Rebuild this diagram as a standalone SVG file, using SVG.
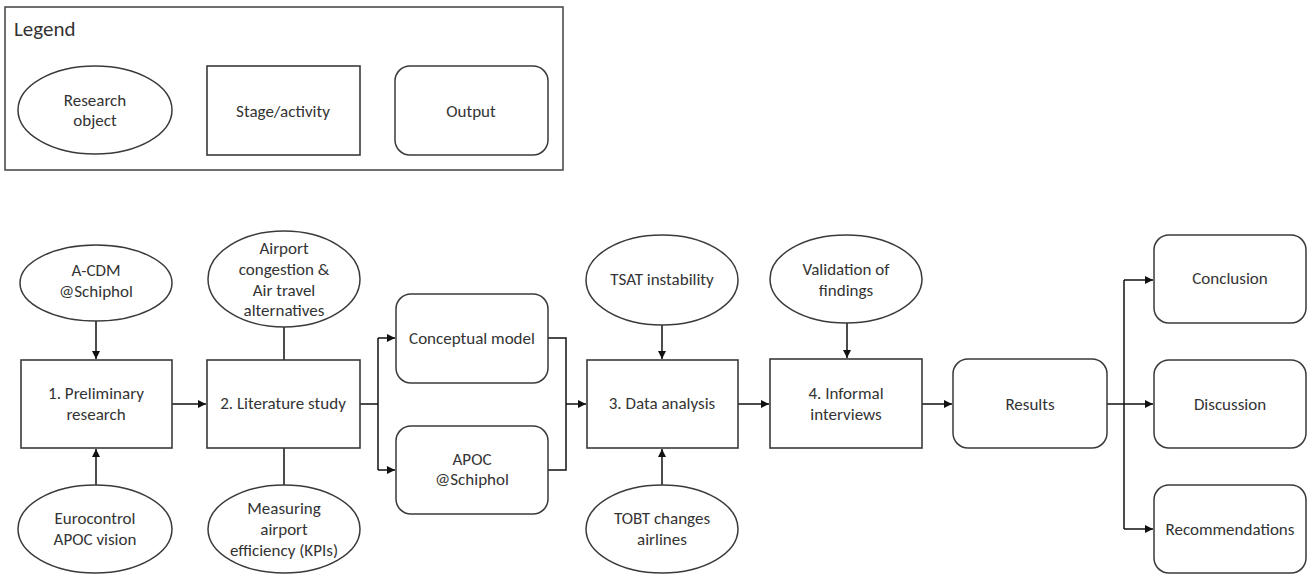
<svg xmlns="http://www.w3.org/2000/svg" width="1310" height="574" viewBox="0 0 1310 574">
  <style>
    text { font-family: Carlito, Lato, "Liberation Sans", sans-serif; font-size: 17px; fill: #333; text-anchor: middle; dominant-baseline: central; }
    .title { font-size: 21px; text-anchor: start; }
    .obj { fill: #fff; stroke: #3a3a3a; stroke-width: 1.5; }
    .stage { fill: #fff; stroke: #3a3a3a; stroke-width: 1.6; }
    .out { fill: #fff; stroke: #3a3a3a; stroke-width: 1.5; }
    .frame { fill: #fff; stroke: #404040; stroke-width: 1.5; }
    .conn { fill: none; stroke: #111; stroke-width: 1.5; }
  </style>
  <defs>
    <marker id="arrow" viewBox="0 0 10 10" refX="10" refY="5" markerWidth="10" markerHeight="8" markerUnits="userSpaceOnUse" orient="auto">
      <path d="M0,0 L10,5 L0,10 Z" fill="#111"/>
    </marker>
  </defs>
  <rect width="1310" height="574" fill="#fff"/>

  <!-- Legend -->
  <g id="legend">
    <rect class="frame" x="5" y="7" width="558" height="163"/>
    <text class="title" x="14" y="29">Legend</text>
    <ellipse class="obj" cx="95" cy="110" rx="77" ry="44"/>
    <text x="95" y="100">Research</text>
    <text x="95" y="120">object</text>
    <rect class="stage" x="207" y="66" width="153" height="89"/>
    <text x="283" y="111">Stage/activity</text>
    <rect class="out" x="395" y="66" width="153" height="89" rx="15" ry="15"/>
    <text x="471" y="111">Output</text>
  </g>

  <!-- Connectors -->
  <g id="connectors">
    <path class="conn" d="M96,321 V359" marker-end="url(#arrow)"/>
    <path class="conn" d="M96,486 V449" marker-end="url(#arrow)"/>
    <path class="conn" d="M172,404 H206" marker-end="url(#arrow)"/>
    <path class="conn" d="M284,327 V360"/>
    <path class="conn" d="M284,448 V485"/>
    <path class="conn" d="M360,404 H378"/>
    <path class="conn" d="M378,338 V470"/>
    <path class="conn" d="M378,338 H395" marker-end="url(#arrow)"/>
    <path class="conn" d="M378,470 H395" marker-end="url(#arrow)"/>
    <path class="conn" d="M548,338 H566 V470 H548"/>
    <path class="conn" d="M566,404 H586" marker-end="url(#arrow)"/>
    <path class="conn" d="M662,325 V359" marker-end="url(#arrow)"/>
    <path class="conn" d="M662,485 V449" marker-end="url(#arrow)"/>
    <path class="conn" d="M738,404 H769" marker-end="url(#arrow)"/>
    <path class="conn" d="M847,323 V358" marker-end="url(#arrow)"/>
    <path class="conn" d="M922,404 H952" marker-end="url(#arrow)"/>
    <path class="conn" d="M1107,404 H1124"/>
    <path class="conn" d="M1124,280 V529"/>
    <path class="conn" d="M1124,280 H1153" marker-end="url(#arrow)"/>
    <path class="conn" d="M1124,404 H1153" marker-end="url(#arrow)"/>
    <path class="conn" d="M1124,529 H1153" marker-end="url(#arrow)"/>
  </g>

  <!-- Research objects -->
  <g id="acdm">
    <ellipse class="obj" cx="96" cy="283" rx="76" ry="38"/>
    <text x="96" y="270">A-CDM</text>
    <text x="96" y="291">@Schiphol</text>
  </g>
  <g id="eurocontrol">
    <ellipse class="obj" cx="95" cy="529" rx="77" ry="44"/>
    <text x="95" y="518">Eurocontrol</text>
    <text x="95" y="539">APOC vision</text>
  </g>
  <g id="congestion">
    <ellipse class="obj" cx="284" cy="279" rx="76" ry="48"/>
    <text x="284" y="248">Airport</text>
    <text x="284" y="269">congestion &amp;</text>
    <text x="284" y="290">Air travel</text>
    <text x="284" y="310">alternatives</text>
  </g>
  <g id="measuring">
    <ellipse class="obj" cx="284" cy="529" rx="76" ry="44"/>
    <text x="284" y="508">Measuring</text>
    <text x="284" y="529">airport</text>
    <text x="284" y="550">efficiency (KPIs)</text>
  </g>
  <g id="tsat">
    <ellipse class="obj" cx="662" cy="280" rx="76" ry="45"/>
    <text x="662" y="279">TSAT instability</text>
  </g>
  <g id="tobt">
    <ellipse class="obj" cx="662" cy="529" rx="76" ry="44"/>
    <text x="662" y="518">TOBT changes</text>
    <text x="662" y="539">airlines</text>
  </g>
  <g id="validation">
    <ellipse class="obj" cx="846" cy="279" rx="76" ry="44"/>
    <text x="846" y="269">Validation of</text>
    <text x="846" y="290">findings</text>
  </g>

  <!-- Stages -->
  <g id="stage1">
    <rect class="stage" x="21" y="360" width="151" height="88"/>
    <text x="96" y="393">1. Preliminary</text>
    <text x="96" y="414">research</text>
  </g>
  <g id="stage2">
    <rect class="stage" x="207" y="360" width="153" height="88"/>
    <text x="283" y="403">2. Literature study</text>
  </g>
  <g id="stage3">
    <rect class="stage" x="587" y="360" width="151" height="88"/>
    <text x="662" y="403">3. Data analysis</text>
  </g>
  <g id="stage4">
    <rect class="stage" x="770" y="359" width="152" height="89"/>
    <text x="846" y="393">4. Informal</text>
    <text x="846" y="414">interviews</text>
  </g>

  <!-- Outputs -->
  <g id="conceptual">
    <rect class="out" x="396" y="294" width="152" height="89" rx="15" ry="15"/>
    <text x="472" y="338">Conceptual model</text>
  </g>
  <g id="apoc">
    <rect class="out" x="396" y="426" width="152" height="88" rx="15" ry="15"/>
    <text x="472" y="459">APOC</text>
    <text x="472" y="479">@Schiphol</text>
  </g>
  <g id="results">
    <rect class="out" x="953" y="359" width="154" height="89" rx="15" ry="15"/>
    <text x="1030" y="404">Results</text>
  </g>
  <g id="conclusion">
    <rect class="out" x="1154" y="235" width="152" height="88" rx="15" ry="15"/>
    <text x="1230" y="278">Conclusion</text>
  </g>
  <g id="discussion">
    <rect class="out" x="1154" y="360" width="152" height="88" rx="15" ry="15"/>
    <text x="1230" y="404">Discussion</text>
  </g>
  <g id="recommendations">
    <rect class="out" x="1154" y="485" width="152" height="88" rx="15" ry="15"/>
    <text x="1230" y="529">Recommendations</text>
  </g>
</svg>
